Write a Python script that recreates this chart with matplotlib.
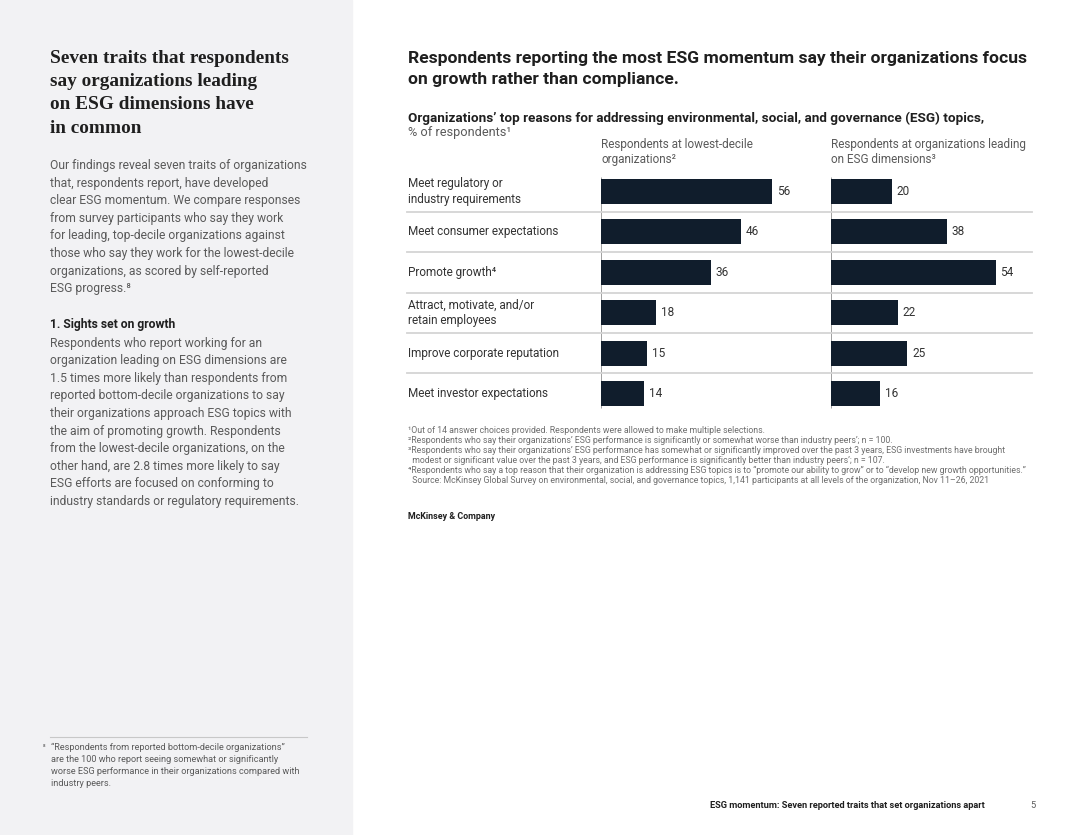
import matplotlib
matplotlib.use("Agg")
import matplotlib.pyplot as plt
from matplotlib import transforms
from matplotlib.patches import Rectangle
from matplotlib.lines import Line2D

# data
reasons = ["Meet regulatory or\nindustry requirements", "Meet consumer expectations", "Promote growth⁴",
           "Attract, motivate, and/or\nretain employees", "Improve corporate reputation",
           "Meet investor expectations"]
lowest_decile = [56, 46, 36, 18, 15, 14]
leading = [20, 38, 54, 22, 25, 16]

col_headers = ["Respondents at lowest-decile\norganizations²",
               "Respondents at organizations leading\non ESG dimensions³"]

side_title = ["Seven traits that respondents", "say organizations leading",
              "on ESG dimensions have", "in common"]
intro = ["Our findings reveal seven traits of organizations",
         "that, respondents report, have developed",
         "clear ESG momentum. We compare responses",
         "from survey participants who say they work",
         "for leading, top-decile organizations against",
         "those who say they work for the lowest-decile",
         "organizations, as scored by self-reported",
         "ESG progress.⁸"]
trait_head = "1. Sights set on growth"
trait_body = ["Respondents who report working for an",
              "organization leading on ESG dimensions are",
              "1.5 times more likely than respondents from",
              "reported bottom-decile organizations to say",
              "their organizations approach ESG topics with",
              "the aim of promoting growth. Respondents",
              "from the lowest-decile organizations, on the",
              "other hand, are 2.8 times more likely to say",
              "ESG efforts are focused on conforming to",
              "industry standards or regulatory requirements."]
side_note = ["“Respondents from reported bottom-decile organizations”",
             "are the 100 who report seeing somewhat or significantly",
             "worse ESG performance in their organizations compared with",
             "industry peers."]
footnotes = ["¹Out of 14 answer choices provided. Respondents were allowed to make multiple selections.",
             "²Respondents who say their organizations’ ESG performance is significantly or somewhat worse than industry peers’; n = 100.",
             "³Respondents who say their organizations’ ESG performance has somewhat or significantly improved over the past 3 years, ESG investments have brought",
             "  modest or significant value over the past 3 years, and ESG performance is significantly better than industry peers’; n = 107.",
             "⁴Respondents who say a top reason that their organization is addressing ESG topics is to “promote our ability to grow” or to “develop new growth opportunities.”",
             "  Source: McKinsey Global Survey on environmental, social, and governance topics, 1,141 participants at all levels of the organization, Nov 11–26, 2021"]

plt.rcParams['font.family'] = ['Roboto', 'DejaVu Sans']

W, H = 1080, 835
def fx(x):
    return x / W
def fy(y):
    return 1 - y / H

BAR = '#101d2c'
DARK = '#1f1f1f'
GREY = '#5a5a5a'
LIGHT = '#6e6e6e'

fig = plt.figure(figsize=(W / 100, H / 100), dpi=100)
fig.patches.append(Rectangle((0, 0), fx(352), 1, transform=fig.transFigure, color='#f2f2f4', zorder=0))

# left panel
for i, line in enumerate(side_title):
    fig.text(fx(50), fy(63 + i * 23.2), line, family=['Liberation Serif'], weight='bold',
             fontsize=13.9, color=DARK, va='baseline')
for i, line in enumerate(intro):
    fig.text(fx(50), fy(169 + i * 17.6), line, fontsize=8.7, color=GREY, va='baseline')
fig.text(fx(50), fy(328), trait_head, fontsize=8.7, weight='bold', color=DARK, va='baseline')
for i, line in enumerate(trait_body):
    fig.text(fx(50), fy(346.5 + i * 17.6), line, fontsize=8.7, color=GREY, va='baseline')
fig.add_artist(Line2D([fx(50), fx(307)], [fy(737), fy(737)], color='#c8c8c8', lw=0.8))
fig.text(fx(43), fy(749), "⁸", fontsize=5, color=GREY, va='baseline')
for i, line in enumerate(side_note):
    fig.text(fx(51), fy(750 + i * 12), line, fontsize=6.6, color=GREY, va='baseline')

# right panel header
fig.text(fx(408), fy(63), "Respondents reporting the most ESG momentum say their organizations focus",
         fontsize=12.6, weight='bold', color=DARK, va='baseline')
fig.text(fx(408), fy(84), "on growth rather than compliance.", fontsize=12.6, weight='bold',
         color=DARK, va='baseline')
fig.text(fx(408), fy(122), "Organizations’ top reasons for addressing environmental, social, and governance (ESG) topics,",
         fontsize=9.7, weight='bold', color=DARK, va='baseline')
fig.text(fx(408), fy(136), "% of respondents¹", fontsize=9.2, color=GREY, va='baseline')

# bar panels
ax1 = fig.add_axes([fx(601), fy(413.7), 200 / W, 242.4 / H])
ax2 = fig.add_axes([fx(831), fy(413.7), 200 / W, 242.4 / H])
rows = list(range(len(reasons)))
for ax, vals, head in [(ax1, lowest_decile, col_headers[0]), (ax2, leading, col_headers[1])]:
    ax.barh(rows, vals, height=0.62, color=BAR, zorder=3)
    for r, v in zip(rows, vals):
        ax.annotate(str(v), (v, r), xytext=(3.5, 0), textcoords='offset points',
                    va='center', ha='left', fontsize=8.5, color='#333333')
    ax.vlines(0, -0.35, 5.35, color='#a0a0a0', lw=0.7, zorder=2)
    ax.set_xlim(0, 65.6)
    ax.set_ylim(5.5, -0.5)
    ax.axis('off')
    ax.text(0, 1.0 + 8.5 / 242.4, head, transform=ax.transAxes, fontsize=8.5, color=GREY,
            va='baseline', ha='left', linespacing=1.2)

# row labels and separators
blend = transforms.blended_transform_factory(fig.transFigure, ax1.transData)
for r, lab in zip(rows, reasons):
    fig.text(fx(408), r, lab, transform=blend, fontsize=8.5, color='#333333', va='center',
             linespacing=1.25)
for r in rows[:-1]:
    fig.add_artist(Line2D([fx(407), fx(1032)], [r + 0.5, r + 0.5], transform=blend,
                          color='#d4d4d4', lw=1.3))

# footnotes
for i, line in enumerate(footnotes):
    fig.text(fx(408), fy(433 + i * 10), line, fontsize=6.3, color=LIGHT, va='baseline')
fig.text(fx(408), fy(519), "McKinsey & Company", fontsize=6.4, weight='bold', color=DARK,
         va='baseline')

# page footer
fig.text(fx(710), fy(808), "ESG momentum: Seven reported traits that set organizations apart",
         fontsize=6.7, weight='bold', color=DARK, va='baseline')
fig.text(fx(1030), fy(808), "5", fontsize=6.7, color=GREY, va='baseline')

fig.savefig("out.png", dpi=100)
